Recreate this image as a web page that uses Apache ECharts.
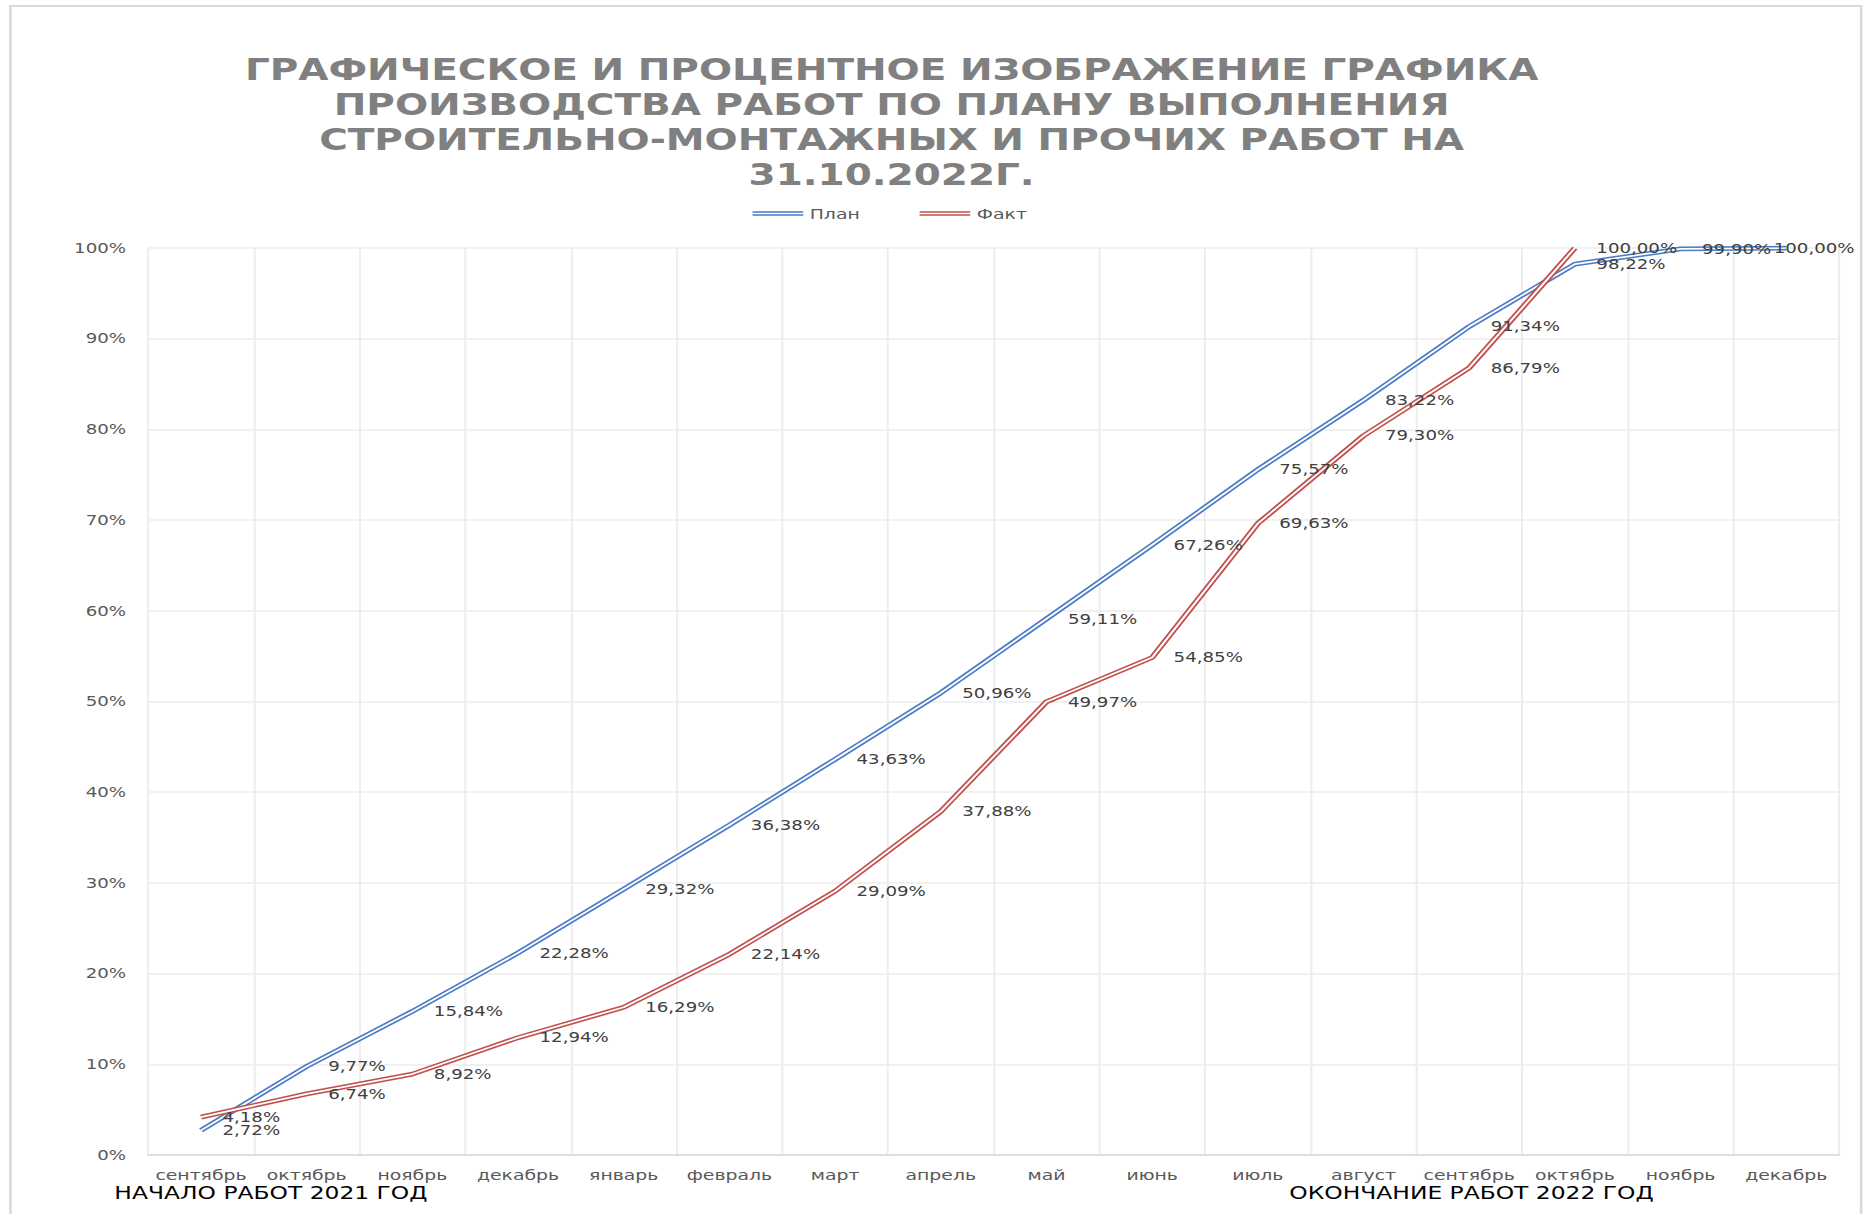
<!DOCTYPE html>
<html>
<head>
<meta charset="utf-8">
<title>График производства работ</title>
<script src="https://cdn.jsdelivr.net/npm/echarts@6/dist/echarts.min.js"></script>
<style>
html,body{margin:0;padding:0;background:#fff;overflow:hidden;}
/* исходная картинка растянута по ширине, поэтому рисуем уже и растягиваем */
#container{width:1438px;height:1214px;transform:scaleX(1.2997);transform-origin:0 0;}
</style>
</head>
<body>
<div id="container"></div>
<script>
var months = ['сентябрь','октябрь','ноябрь','декабрь','январь','февраль','март','апрель','май','июнь','июль','август','сентябрь','октябрь','ноябрь','декабрь'];
var plan = [2.72, 9.77, 15.84, 22.28, 29.32, 36.38, 43.63, 50.96, 59.11, 67.26, 75.57, 83.22, 91.34, 98.22, 99.90, 100.00];
var fact = [4.18, 6.74, 8.92, 12.94, 16.29, 22.14, 29.09, 37.88, 49.97, 54.85, 69.63, 79.30, 86.79, 100.00];
var startText = 'НАЧАЛО РАБОТ 2021 ГОД';
var endText = 'ОКОНЧАНИЕ РАБОТ 2022 ГОД';
var titleText = 'ГРАФИЧЕСКОЕ И ПРОЦЕНТНОЕ ИЗОБРАЖЕНИЕ ГРАФИКА\nПРОИЗВОДСТВА РАБОТ ПО ПЛАНУ ВЫПОЛНЕНИЯ\nСТРОИТЕЛЬНО-МОНТАЖНЫХ И ПРОЧИХ РАБОТ НА\n31.10.2022Г.';

var grafik = {};
grafik.font = 'DejaVu Sans';
grafik.blue = '#4a7bc4';
grafik.red = '#c0504d';

grafik.pct = function(p){
	return p.value.toFixed(2).replace('.', ',') + '%';
};

// двойная линия: толстая цветная + тонкая белая поверх
grafik.outer = function(name, data, color){
	return {
		name: name,
		type: 'line',
		data: data,
		color: color,
		symbol: 'none',
		lineStyle: {color: color, width: 4.8},
		z: 2
	};
};
grafik.inner = function(name, data){
	return {
		name: name + '_',
		type: 'line',
		data: data,
		symbol: 'circle',
		symbolSize: 1,
		itemStyle: {color: '#fff'},
		lineStyle: {color: '#fff', width: 1.7},
		label: {
			show: true,
			position: 'right',
			distance: 16,
			color: '#404040',
			fontFamily: grafik.font,
			fontSize: 14,
			lineHeight: 13,
			formatter: grafik.pct
		},
		z: 2
	};
};

grafik.getOption = function(){
	var doubleIcon = 'path://M0,0H40V1.5H0Z M0,3H40V4.5H0Z';
	return {
		backgroundColor: '#fff',
		animation: false,
		title: {
			text: titleText,
			left: 681,
			top: 47,
			textAlign: 'center',
			textStyle: {
				fontFamily: grafik.font,
				fontSize: 30,
				fontWeight: 'bold',
				color: '#808080',
				lineHeight: 35
			}
		},
		legend: {
			data: [
				{name: 'План', icon: doubleIcon, itemStyle: {color: grafik.blue, borderWidth: 0}},
				{name: 'Факт', icon: doubleIcon, itemStyle: {color: grafik.red, borderWidth: 0}}
			],
			left: 574,
			top: 201,
			itemWidth: 39,
			itemHeight: 5,
			itemGap: 46,
			textStyle: {fontFamily: grafik.font, fontSize: 14.5, color: '#595959'}
		},
		grid: {left: 114, right: 23, top: 248, bottom: 59},
		xAxis: {
			type: 'category',
			data: months,
			boundaryGap: true,
			axisLine: {lineStyle: {color: '#d9d9d9', width: 1.5}},
			axisTick: {show: false},
			axisLabel: {interval: 0, margin: 12, color: '#595959', fontFamily: grafik.font, fontSize: 14.5},
			splitLine: {show: true, interval: 0, lineStyle: {color: '#ececec', width: 1.5}}
		},
		yAxis: {
			type: 'value',
			min: 0,
			max: 100,
			interval: 10,
			axisLine: {show: false},
			axisTick: {show: false},
			axisLabel: {margin: 17, color: '#595959', fontFamily: grafik.font, fontSize: 14, formatter: '{value}%'},
			splitLine: {lineStyle: {color: '#ececec', width: 1.5}}
		},
		// подписи не должны вылезать за рамку диаграммы
		labelLayout: function(p){
			var r = p.labelRect;
			var lim = 1427;
			if (r.x + r.width > lim) {
				return {dx: lim - r.x - r.width};
			}
		},
		series: [
			grafik.outer('План', plan, grafik.blue),
			grafik.inner('План', plan),
			grafik.outer('Факт', fact, grafik.red),
			grafik.inner('Факт', fact)
		],
		graphic: [
			{
				type: 'rect',
				shape: {x: 8, y: 6, width: 1424, height: 1300},
				style: {fill: 'none', stroke: '#d9d9d9', lineWidth: 2},
				silent: true
			},
			{
				type: 'text',
				left: 88,
				top: 1184,
				style: {text: startText, fontFamily: grafik.font, fontSize: 18, fill: '#000'}
			},
			{
				type: 'text',
				left: 992,
				top: 1184,
				style: {text: endText, fontFamily: grafik.font, fontSize: 18, fill: '#000'}
			}
		]
	};
};

grafik.init = function(){
	var myChart = echarts.init(document.getElementById('container'), null, {renderer: 'svg'});
	var option = grafik.getOption();
	if (option && typeof option === "object") {
		myChart.setOption(option, true);
	}
};
grafik.init();
</script>
</body>
</html>
